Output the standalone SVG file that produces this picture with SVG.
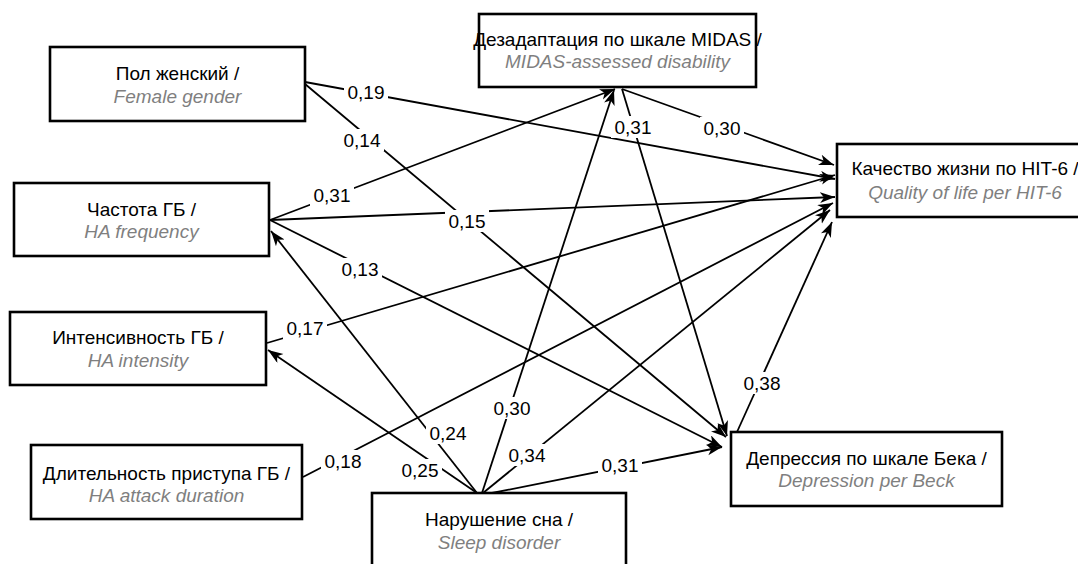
<svg xmlns="http://www.w3.org/2000/svg" width="1078" height="564" viewBox="0 0 1078 564">
<style>
.box{fill:#fff;stroke:#000;stroke-width:2.6}
.t1{font-family:"Liberation Sans",Arial,sans-serif;font-size:19px;fill:#000;text-anchor:middle}
.t2{font-family:"Liberation Sans",Arial,sans-serif;font-size:19px;font-style:italic;fill:#7f7f7f;text-anchor:middle}
.edge{stroke:#000;stroke-width:1.8;fill:none;marker-end:url(#ah)}
.lbg{fill:#fff}
.lbl{font-family:"Liberation Sans",Arial,sans-serif;font-size:19px;fill:#000;text-anchor:middle}
</style>
<defs>
<marker id="ah" markerUnits="userSpaceOnUse" markerWidth="16" markerHeight="12" refX="15" refY="5.5" orient="auto">
<path d="M0,0 L15,5.5 L0,11 L4,5.5 z" fill="#000"/>
</marker>
</defs>
<rect width="1078" height="564" fill="#fff"/>
<g id="connectors">
<line class="edge" x1="305" y1="82" x2="835" y2="179"/>
<line class="edge" x1="305" y1="84" x2="726" y2="437"/>
<line class="edge" x1="270" y1="220" x2="615" y2="89"/>
<line class="edge" x1="270" y1="220" x2="835" y2="197"/>
<line class="edge" x1="270" y1="220" x2="722" y2="447"/>
<line class="edge" x1="267" y1="343" x2="835" y2="175"/>
<line class="edge" x1="303" y1="477" x2="833" y2="203"/>
<line class="edge" x1="482" y1="493" x2="614" y2="90"/>
<line class="edge" x1="483" y1="493" x2="830" y2="210"/>
<line class="edge" x1="492" y1="493" x2="722" y2="447"/>
<line class="edge" x1="477" y1="493" x2="271" y2="231"/>
<line class="edge" x1="477" y1="493" x2="268" y2="350"/>
<line class="edge" x1="622" y1="89" x2="834" y2="165"/>
<line class="edge" x1="622" y1="89" x2="727" y2="436"/>
<line class="edge" x1="737" y1="432" x2="832" y2="222"/>
</g>
<g id="labels">
<rect class="lbg" x="344" y="81" width="44" height="22"/><text class="lbl" x="366" y="99">0,19</text>
<rect class="lbg" x="340" y="129" width="44" height="22"/><text class="lbl" x="362" y="147">0,14</text>
<rect class="lbg" x="310" y="184" width="44" height="22"/><text class="lbl" x="332" y="202">0,31</text>
<rect class="lbg" x="445" y="210" width="44" height="22"/><text class="lbl" x="467" y="228">0,15</text>
<rect class="lbg" x="338" y="258" width="44" height="22"/><text class="lbl" x="360" y="276">0,13</text>
<rect class="lbg" x="283" y="317" width="44" height="22"/><text class="lbl" x="305" y="335">0,17</text>
<rect class="lbg" x="321" y="450" width="44" height="22"/><text class="lbl" x="343" y="468">0,18</text>
<rect class="lbg" x="490" y="397" width="44" height="22"/><text class="lbl" x="512" y="415">0,30</text>
<rect class="lbg" x="505" y="444" width="44" height="22"/><text class="lbl" x="527" y="462">0,34</text>
<rect class="lbg" x="598" y="454" width="44" height="22"/><text class="lbl" x="620" y="472">0,31</text>
<rect class="lbg" x="426" y="422" width="44" height="22"/><text class="lbl" x="448" y="440">0,24</text>
<rect class="lbg" x="398" y="459" width="44" height="22"/><text class="lbl" x="420" y="477">0,25</text>
<rect class="lbg" x="700" y="117" width="44" height="22"/><text class="lbl" x="722" y="135">0,30</text>
<rect class="lbg" x="611" y="116" width="44" height="22"/><text class="lbl" x="633" y="134">0,31</text>
<rect class="lbg" x="740" y="372" width="44" height="22"/><text class="lbl" x="762" y="390">0,38</text>
</g>
<g id="n-female">
<rect class="box" x="50" y="47" width="255" height="74"/>
<text class="t1" x="177.5" y="80">Пол женский /</text>
<text class="t2" x="177.5" y="103">Female gender</text>
</g>
<g id="n-frequency">
<rect class="box" x="14" y="183" width="255" height="73"/>
<text class="t1" x="141.5" y="216">Частота ГБ /</text>
<text class="t2" x="141.5" y="238">HA frequency</text>
</g>
<g id="n-intensity">
<rect class="box" x="10" y="312" width="256" height="73"/>
<text class="t1" x="138" y="344">Интенсивность ГБ /</text>
<text class="t2" x="138" y="367">HA intensity</text>
</g>
<g id="n-duration">
<rect class="box" x="31" y="445" width="271" height="74"/>
<text class="t1" x="166.5" y="480">Длительность приступа ГБ /</text>
<text class="t2" x="166.5" y="502">HA attack duration</text>
</g>
<g id="n-midas">
<rect class="box" x="479" y="14" width="277" height="73"/>
<text class="t1" x="617.5" y="46">Дезадаптация по шкале MIDAS /</text>
<text class="t2" x="617.5" y="68">MIDAS-assessed disability</text>
</g>
<g id="n-hit6">
<rect class="box" x="837" y="144" width="256" height="73"/>
<text class="t1" x="965" y="175">Качество жизни по HIT-6 /</text>
<text class="t2" x="965" y="199">Quality of life per HIT-6</text>
</g>
<g id="n-depression">
<rect class="box" x="731" y="432" width="271" height="74"/>
<text class="t1" x="866.5" y="465">Депрессия по шкале Бека /</text>
<text class="t2" x="866.5" y="487">Depression per Beck</text>
</g>
<g id="n-sleep">
<rect class="box" x="372" y="493" width="254" height="80"/>
<text class="t1" x="499" y="526">Нарушение сна /</text>
<text class="t2" x="499" y="549">Sleep disorder</text>
</g>
</svg>
